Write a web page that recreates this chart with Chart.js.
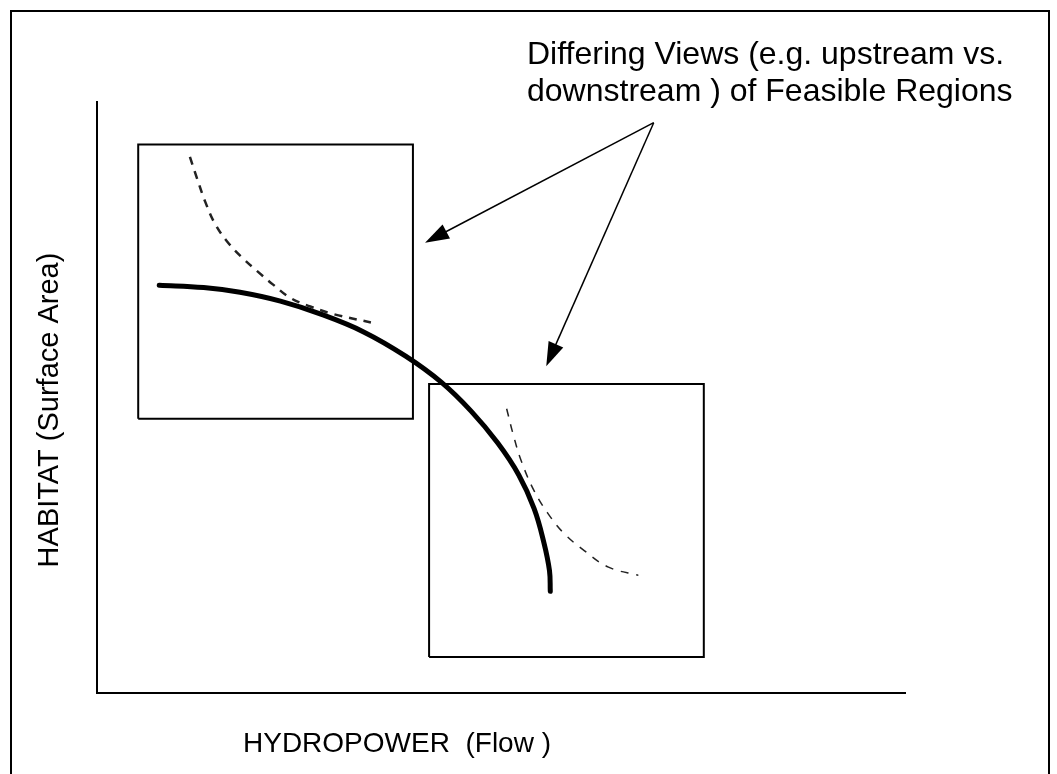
<!DOCTYPE html>
<html>
<head>
<meta charset="utf-8">
<script src="https://cdn.jsdelivr.net/npm/chart.js@4"></script>
<style>
  body { margin: 0; background: #fff; }
  canvas { display: block; }
</style>
</head>
<body>
<canvas id="myChart" width="1057" height="774"></canvas>
<script>
// values are in a unitless 0-100 space: x = hydropower (flow), y = habitat (surface area)

// thick trade-off curve
var frontierX = [7.7, 13.2, 17.7, 22.7, 27.7, 33.0, 38.2, 42.6, 46.3, 49.6, 52.2, 54.1, 55.3, 56.0, 56.1];
var frontierY = [69.0, 68.6, 67.8, 66.3, 64.1, 61.1, 57.0, 52.6, 47.7, 42.3, 36.9, 31.2, 25.5, 20.7, 17.2];

// dashed curve, upstream view
var upstreamX = [11.5, 12.4, 13.4, 14.6, 16.1, 18.1, 19.9, 21.8, 24.0, 26.4, 29.3, 33.9];
var upstreamY = [90.7, 87.0, 83.1, 79.4, 76.4, 73.5, 71.3, 69.1, 66.8, 65.4, 64.1, 62.7];

// dashed curve, downstream view
var downstreamX = [50.7, 51.5, 52.5, 54.1, 55.8, 57.8, 60.3, 63.3, 67.0];
var downstreamY = [48.1, 43.8, 39.3, 34.2, 30.4, 27.0, 24.1, 21.3, 19.9];

// feasible region boxes [x0, x1, y0, y1]
var box1 = [5.1, 39.1, 46.4, 92.8];
var box2 = [41.1, 75.1, 6.1, 52.3];

// arrows: tail and two tips
var arrowTail = [68.9, 96.5];
var arrowTips = [[40.6, 76.2], [55.6, 55.3]];

var xTitle = 'HYDROPOWER  (Flow )';
var yTitle = 'HABITAT (Surface Area)';
var noteLines = ['Differing Views (e.g. upstream vs.', 'downstream ) of Feasible Regions'];

function pts(xs, ys) {
    return xs.map(function (x, i) { return { x: x, y: ys[i] }; });
}
function rect(b) {
    return [{ x: b[0], y: b[2] }, { x: b[1], y: b[2] }, { x: b[1], y: b[3] }, { x: b[0], y: b[3] }, { x: b[0], y: b[2] }];
}

var FONT = '"Liberation Sans", Arial, sans-serif';

// frame, axis titles, annotation and arrows
var decor = {
    id: 'decor',
    beforeDraw: function (chart) {
        var c = chart.ctx;
        c.save();
        c.fillStyle = '#fff';
        c.fillRect(0, 0, chart.width, chart.height);
        c.strokeStyle = '#000';
        c.lineWidth = 2;
        c.strokeRect(11, 11, chart.width - 19, chart.height);
        c.restore();
    },
    afterDraw: function (chart) {
        var c = chart.ctx, xs = chart.scales.x, ys = chart.scales.y;
        c.save();
        c.fillStyle = '#000';
        c.strokeStyle = '#000';

        c.font = '28px ' + FONT;
        c.textBaseline = 'alphabetic';
        c.textAlign = 'left';
        c.fillText(xTitle, 243, 752);

        c.save();
        c.font = '29px ' + FONT;
        c.translate(58, 410);
        c.rotate(-Math.PI / 2);
        c.textAlign = 'center';
        c.fillText(yTitle, 0, 0);
        c.restore();

        c.font = '32px ' + FONT;
        c.fillText(noteLines[0], 527, 64);
        c.fillText(noteLines[1], 527, 101);

        var tx = xs.getPixelForValue(arrowTail[0]), ty = ys.getPixelForValue(arrowTail[1]);
        arrowTips.forEach(function (t) {
            var hx = xs.getPixelForValue(t[0]), hy = ys.getPixelForValue(t[1]);
            var a = Math.atan2(hy - ty, hx - tx), len = 24, w = 8;
            c.lineWidth = 1.5;
            c.beginPath();
            c.moveTo(tx, ty);
            c.lineTo(hx - Math.cos(a) * len * 0.8, hy - Math.sin(a) * len * 0.8);
            c.stroke();
            c.beginPath();
            c.moveTo(hx, hy);
            c.lineTo(hx - Math.cos(a) * len - Math.sin(a) * w, hy - Math.sin(a) * len + Math.cos(a) * w);
            c.lineTo(hx - Math.cos(a) * len + Math.sin(a) * w, hy - Math.sin(a) * len - Math.cos(a) * w);
            c.closePath();
            c.fill();
        });
        c.restore();
    }
};

var ctx = document.getElementById('myChart').getContext('2d');
var chart = new Chart(ctx, {
    type: 'scatter',
    data: {
        datasets: [
            { data: rect(box1), showLine: true, borderColor: '#000', borderWidth: 2, pointRadius: 0, tension: 0 },
            { data: rect(box2), showLine: true, borderColor: '#000', borderWidth: 2, pointRadius: 0, tension: 0 },
            { data: pts(upstreamX, upstreamY), showLine: true, borderColor: '#222', borderWidth: 2.5,
              borderDash: [8, 7], pointRadius: 0, tension: 0.4 },
            { data: pts(downstreamX, downstreamY), showLine: true, borderColor: '#222', borderWidth: 1.5,
              borderDash: [8, 8], pointRadius: 0, tension: 0.4 },
            { data: pts(frontierX, frontierY), showLine: true, borderColor: '#000', borderWidth: 5,
              borderCapStyle: 'round', pointRadius: 0, tension: 0.4 }
        ]
    },
    options: {
        responsive: false,
        animation: false,
        devicePixelRatio: 1,
        layout: { padding: { left: 97, right: 152, top: 102, bottom: 81 } },
        plugins: { legend: { display: false }, tooltip: { enabled: false } },
        scales: {
            x: {
                type: 'linear', min: 0, max: 100,
                grid: { display: false, drawTicks: false },
                ticks: { display: false },
                border: { display: true, color: '#000', width: 2 }
            },
            y: {
                type: 'linear', min: 0, max: 100,
                grid: { display: false, drawTicks: false },
                ticks: { display: false },
                border: { display: true, color: '#000', width: 2 }
            }
        }
    },
    plugins: [decor]
});
</script>
</body>
</html>
